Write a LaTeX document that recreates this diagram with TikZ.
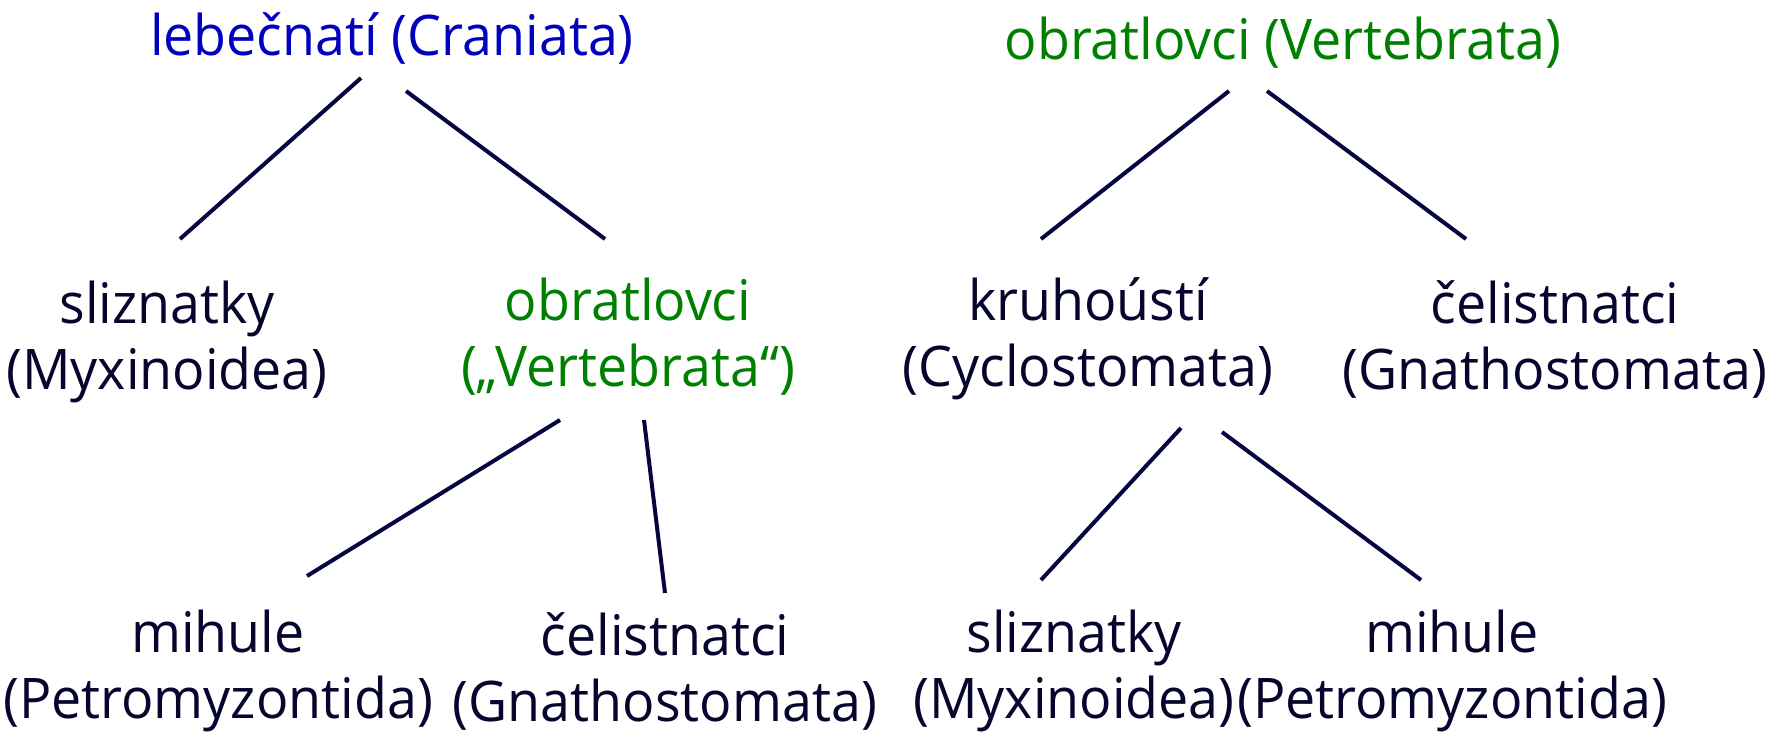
\documentclass[tikz,border=0pt]{standalone}
\usepackage{fontspec}
\setmainfont{Open Sans}[FakeStretch=0.96]
\definecolor{tblue}{RGB}{0,0,190}
\definecolor{tgreen}{RGB}{0,128,0}
\definecolor{tdark}{RGB}{5,5,45}
\definecolor{lnavy}{RGB}{5,5,65}
\tikzset{
  lbl/.style={inner sep=0pt, align=center, font=\fontsize{56}{66}\selectfont, text=tdark},
  conn/.style={draw=lnavy, line width=4pt}
}
\begin{document}
\begin{tikzpicture}[x=1pt,y=-1pt]
\useasboundingbox (0,0) rectangle (1782,731);
% titles
\node[lbl, text=tblue] (cran) at (392,38) {lebečnatí (Craniata)};
\node[lbl, text=tgreen] (vert) at (1283,43) {obratlovci (Vertebrata)};
% left tree
\node[lbl] (slizA) at (167,342) {sliznatky\\(Myxinoidea)};
\node[lbl, text=tgreen] (obrA) at (628,337) {obratlovci\\(„Vertebrata“)};
\node[lbl] (mihA) at (218,671) {mihule\\(Petromyzontida)};
\node[lbl] (celA) at (665,671) {čelistnatci\\(Gnathostomata)};
% right tree
\node[lbl] (kru) at (1088,339) {kruhoústí\\(Cyclostomata)};
\node[lbl] (celB) at (1555,339) {čelistnatci\\(Gnathostomata)};
\node[lbl] (slizB) at (1074,671) {sliznatky\\(Myxinoidea)};
\node[lbl] (mihB) at (1452,671) {mihule\\(Petromyzontida)};
% connector end points
\coordinate (c1a) at (361,78);  \coordinate (c1b) at (180,239);
\coordinate (c2a) at (406,91);  \coordinate (c2b) at (605,239);
\coordinate (c3a) at (1229,91); \coordinate (c3b) at (1041,239);
\coordinate (c4a) at (1267,91); \coordinate (c4b) at (1466,239);
\coordinate (c5a) at (560,420); \coordinate (c5b) at (307,576);
\coordinate (c6a) at (644,420); \coordinate (c6b) at (665,593);
\coordinate (c7a) at (1181,428); \coordinate (c7b) at (1041,580);
\coordinate (c8a) at (1222,432); \coordinate (c8b) at (1421,580);
\draw[conn] (c1a) -- (c1b);
\draw[conn] (c2a) -- (c2b);
\draw[conn] (c3a) -- (c3b);
\draw[conn] (c4a) -- (c4b);
\draw[conn] (c5a) -- (c5b);
\draw[conn] (c6a) -- (c6b);
\draw[conn] (c7a) -- (c7b);
\draw[conn] (c8a) -- (c8b);
\end{tikzpicture}
\end{document}
